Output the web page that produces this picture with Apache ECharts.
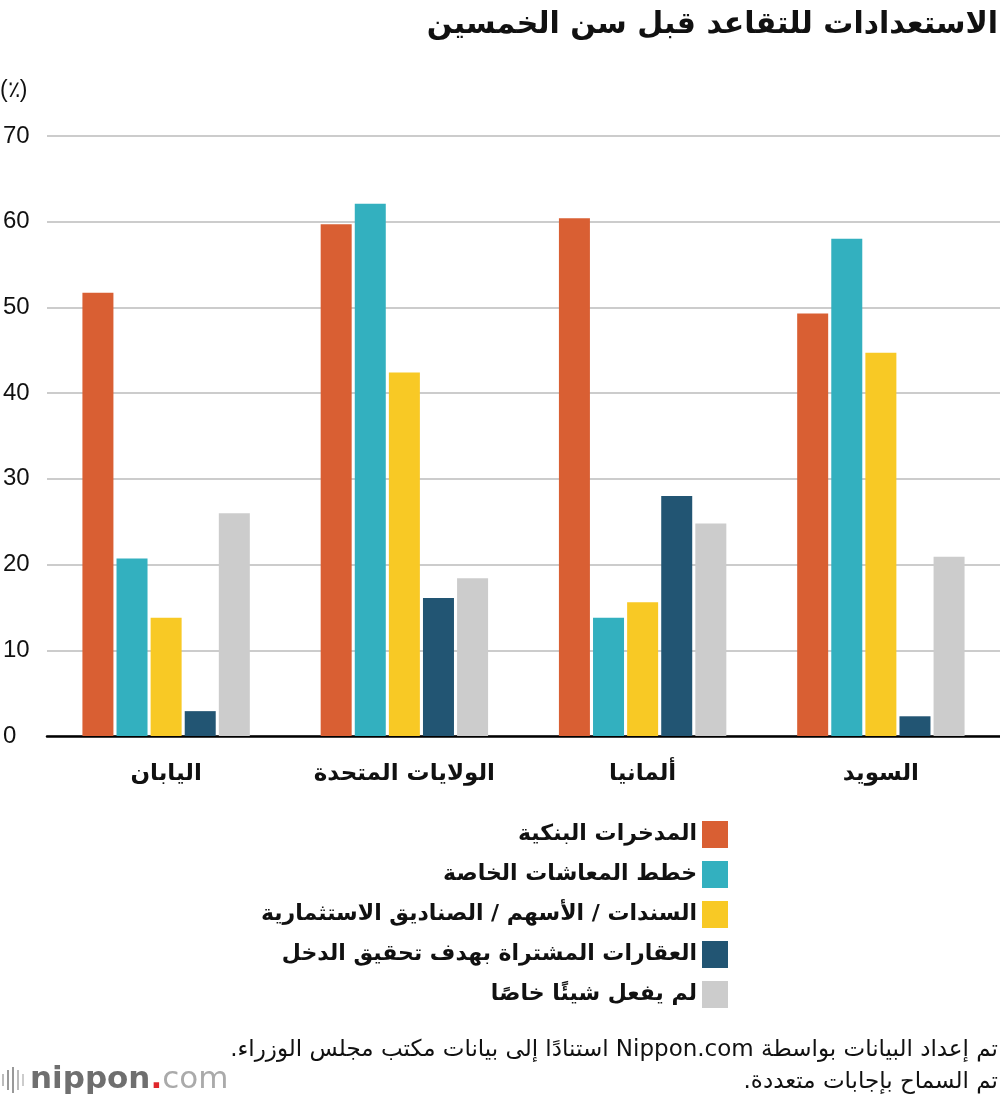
<!DOCTYPE html>
<html>
<head>
<meta charset="utf-8">
<script src="https://cdn.jsdelivr.net/npm/echarts@6/dist/echarts.min.js"></script>
<style>
html,body{margin:0;padding:0;background:#fff;}
#chart{width:1000px;height:1104px;}
</style>
</head>
<body>
<div id="chart"></div>
<script>
var countries = ['اليابان', 'الولايات المتحدة', 'ألمانيا', 'السويد'];
var seriesNames = [
    'المدخرات البنكية',
    'خطط المعاشات الخاصة',
    'السندات / الأسهم / الصناديق الاستثمارية',
    'العقارات المشتراة بهدف تحقيق الدخل',
    'لم يفعل شيئًا خاصًا'
];
var bankSavings = [51.7, 59.7, 60.4, 49.3];
var privatePensions = [20.7, 62.1, 13.8, 58.0];
var bondsStocks = [13.8, 42.4, 15.6, 44.7];
var realEstate = [2.9, 16.1, 28.0, 2.3];
var nothing = [26.0, 18.4, 24.8, 20.9];
var yTicks = [0, 10, 20, 30, 40, 50, 60, 70];

var colors = ['#d95f33', '#33b0bf', '#f8c925', '#225573', '#cccccc'];
var arFont = '"DejaVu Sans", "Noto Sans", sans-serif';
// RLE ... PDF so the mixed Arabic / Latin lines keep right-to-left order
function rtl(s) { return '\u202B' + s + '\u202C'; }

var myChart = echarts.init(document.getElementById('chart'));

var allData = [bankSavings, privatePensions, bondsStocks, realEstate, nothing];
var series = [];
for (var i = 0; i < allData.length; i++) {
    series.push({
        name: seriesNames[i],
        type: 'bar',
        barWidth: 31,
        barGap: '10%',
        data: allData[i],
        itemStyle: { color: colors[i] },
        emphasis: { disabled: true }
    });
}

option = {
    animation: false,
    color: colors,
    grid: {
        left: 44,
        right: 0,
        top: 136,
        bottom: 368
    },
    legend: {
        orient: 'vertical',
        right: 267,
        top: 816,
        align: 'right',
        itemWidth: 26,
        itemHeight: 27,
        itemGap: 13,
        icon: 'rect',
        selectedMode: false,
        textStyle: {
            fontFamily: arFont,
            fontWeight: 'bold',
            fontSize: 22,
            color: '#111'
        },
        data: seriesNames
    },
    xAxis: {
        type: 'category',
        data: countries,
        axisLine: { lineStyle: { color: '#000', width: 2.5 } },
        axisTick: { show: false },
        axisLabel: {
            margin: 27,
            fontFamily: arFont,
            fontWeight: 'bold',
            fontSize: 23,
            color: '#111'
        }
    },
    yAxis: {
        type: 'value',
        min: yTicks[0],
        max: yTicks[yTicks.length - 1],
        interval: 10,
        axisLine: { show: false },
        axisTick: { show: false },
        splitLine: { lineStyle: { color: '#cccccc', width: 2 } },
        axisLabel: {
            align: 'left',
            margin: 44,
            fontFamily: '"Liberation Sans", Arial, sans-serif',
            fontSize: 24,
            color: '#111'
        }
    },
    graphic: [
        {
            type: 'text',
            right: 2,
            top: 10,
            style: {
                text: 'الاستعدادات للتقاعد قبل سن الخمسين',
                font: 'bold 30px ' + arFont,
                fill: '#111'
            }
        },
        {
            type: 'text',
            left: 0,
            top: 79,
            style: {
                text: '(٪)',
                font: '23px "Liberation Sans", sans-serif',
                fill: '#111'
            }
        },
        {
            type: 'text',
            right: 2,
            top: 1039,
            style: {
                text: rtl('تم إعداد البيانات بواسطة Nippon.com استنادًا إلى بيانات مكتب مجلس الوزراء.'),
                font: '23px ' + arFont,
                fill: '#111'
            }
        },
        {
            type: 'text',
            right: 2,
            top: 1071,
            style: {
                text: rtl('تم السماح بإجابات متعددة.'),
                font: '23px ' + arFont,
                fill: '#111'
            }
        },
        { type: 'rect', shape: { x: 2, y: 1074, width: 2, height: 12 }, style: { fill: '#bbb' } },
        { type: 'rect', shape: { x: 7, y: 1070, width: 2, height: 20 }, style: { fill: '#999' } },
        { type: 'rect', shape: { x: 12, y: 1067, width: 2, height: 26 }, style: { fill: '#999' } },
        { type: 'rect', shape: { x: 17, y: 1070, width: 2, height: 20 }, style: { fill: '#bbb' } },
        { type: 'rect', shape: { x: 22, y: 1074, width: 2, height: 12 }, style: { fill: '#ccc' } },
        {
            type: 'text',
            left: 30,
            top: 1064,
            style: {
                text: '{a|nippon}{b|.}{c|com}',
                rich: {
                    a: { fontFamily: '"DejaVu Sans", sans-serif', fontSize: 31, fontWeight: 'bold', fill: '#6f6f6f' },
                    b: { fontFamily: '"DejaVu Sans", sans-serif', fontSize: 31, fontWeight: 'bold', fill: '#e0262b' },
                    c: { fontFamily: '"DejaVu Sans", sans-serif', fontSize: 31, fill: '#aaa' }
                }
            }
        }
    ],
    series: series
};

myChart.setOption(option);
</script>
</body>
</html>
